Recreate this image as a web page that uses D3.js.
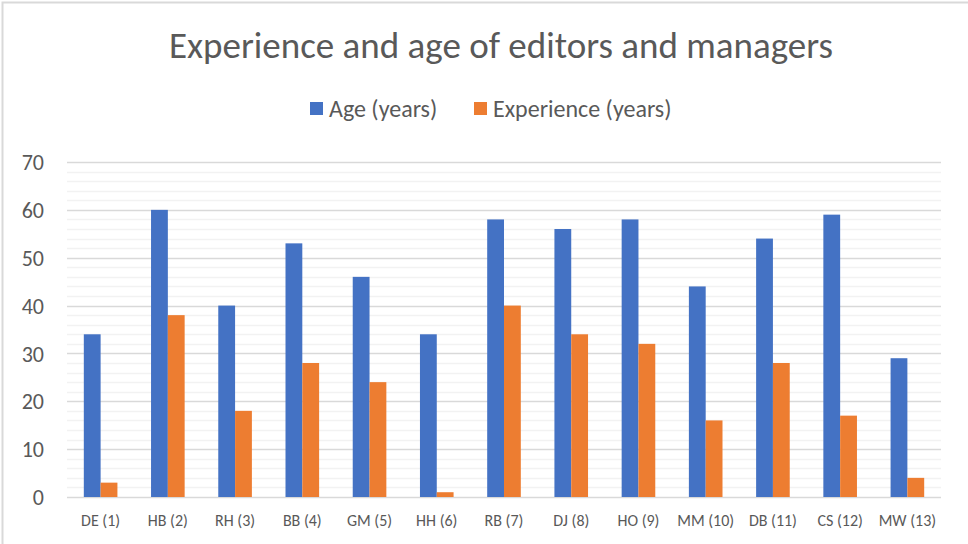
<!DOCTYPE html>
<html>
<head>
<meta charset="utf-8">
<script src="https://cdn.jsdelivr.net/npm/d3@7"></script>
<style>
  body { margin: 0; background: #fff; }
  text { font-family: Carlito, "Open Sans", "Noto Sans", sans-serif; fill: #595959; }
</style>
</head>
<body>
<svg id="svg" width="968" height="544"></svg>
<script>
var categories = ["DE (1)", "HB (2)", "RH (3)", "BB (4)", "GM (5)", "HH (6)", "RB (7)",
  "DJ (8)", "HO (9)", "MM (10)", "DB (11)", "CS (12)", "MW (13)"]
var ageValues = [34, 60, 40, 53, 46, 34, 58, 56, 58, 44, 54, 59, 29]
var experienceValues = [3, 38, 18, 28, 24, 1, 40, 34, 32, 16, 28, 17, 4]
var seriesNames = ["Age (years)", "Experience (years)"]
var seriesColors = ["#4472c4", "#ed7d31"]
var yTicks = [0, 10, 20, 30, 40, 50, 60, 70]

var svg = d3.select("#svg"),
    margin = { top: 162, right: 27, bottom: 47, left: 67 },
    width = +svg.attr("width") - margin.left - margin.right,
    height = +svg.attr("height") - margin.top - margin.bottom

// chart border
svg.append("rect")
    .attr("x", 2.5).attr("y", 2.5)
    .attr("width", 980).attr("height", 560)
    .attr("fill", "none")
    .attr("stroke", "#d9d9d9")
    .attr("stroke-width", 2)

svg.append("text")
    .attr("x", 501).attr("y", 58)
    .attr("text-anchor", "middle")
    .style("font-size", "37px")
    .style("font-weight", 300)
    .text("Experience and age of editors and managers")

var g = svg.append("g").attr("transform", translate(margin.left, margin.top))

var x = d3.scaleBand().domain(categories).range([0, width]).paddingInner(0.5).paddingOuter(0.25)
var y = d3.scaleLinear().domain([0, 70]).range([height, 0])

// minor gridlines every 2
g.append("g").selectAll("line")
    .data(d3.range(2, 70, 2).filter(function (d) { return d % 10 !== 0 }))
    .enter().append("line")
    .attr("x1", 0).attr("x2", width)
    .attr("y1", function (d) { return Math.round(y(d)) + 0.5 })
    .attr("y2", function (d) { return Math.round(y(d)) + 0.5 })
    .attr("stroke", "#f2f2f2").attr("stroke-width", 1.5)

// major gridlines
g.append("g").selectAll("line")
    .data(yTicks)
    .enter().append("line")
    .attr("x1", 0).attr("x2", width)
    .attr("y1", function (d) { return Math.round(y(d)) + 0.5 })
    .attr("y2", function (d) { return Math.round(y(d)) + 0.5 })
    .attr("stroke", "#d9d9d9").attr("stroke-width", 1.5)

var yAxis = g.append("g")
    .call(d3.axisLeft(y).tickValues(yTicks).tickSize(0).tickPadding(23))
yAxis.select(".domain").remove()
yAxis.selectAll("text").style("font-size", "22px").attr("dy", "0.35em")

var xAxis = g.append("g")
    .attr("transform", translate(0, height))
    .call(d3.axisBottom(x).tickSize(0).tickPadding(18))
xAxis.select(".domain").remove()
xAxis.selectAll("text").style("font-size", "16px")

var sub = d3.scaleBand().domain([0, 1]).range([0, x.bandwidth()])
var series = [ageValues, experienceValues]

series.forEach(function (vals, s) {
    g.append("g").selectAll("rect")
        .data(vals)
        .enter().append("rect")
        .attr("x", function (d, i) { return x(categories[i]) + sub(s) })
        .attr("y", function (d) { return y(d) })
        .attr("width", sub.bandwidth())
        .attr("height", function (d) { return height - y(d) })
        .attr("fill", seriesColors[s])
})

// legend
var legendX = [310, 474]
var legend = svg.append("g")
seriesNames.forEach(function (name, i) {
    legend.append("rect")
        .attr("x", legendX[i]).attr("y", 102)
        .attr("width", 13).attr("height", 13)
        .attr("fill", seriesColors[i])
    legend.append("text")
        .attr("x", legendX[i] + 19).attr("y", 117)
        .style("font-size", "24px")
        .text(name)
})

function translate(x, y) {
    return "translate(" + x + "," + y + ")"
}
</script>
</body>
</html>
